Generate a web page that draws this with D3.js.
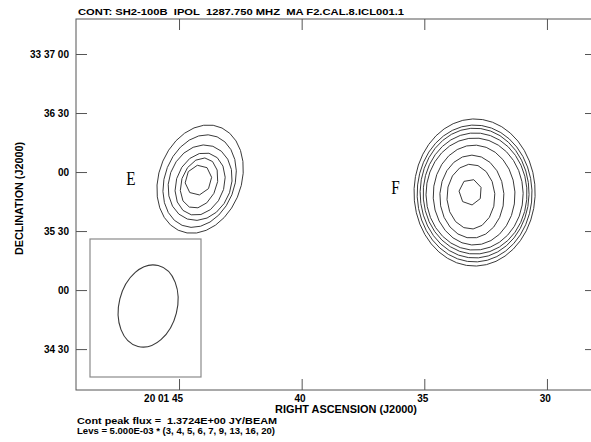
<!DOCTYPE html>
<html>
<head>
<meta charset="utf-8">
<script src="https://cdn.jsdelivr.net/npm/d3@7"></script>
<style>
  html, body { margin: 0; padding: 0; background: #fff; }
  svg { display: block; }
  text.lbl { font-family: "Liberation Sans", Arial, sans-serif; font-weight: bold; fill: #000; white-space: pre; }
  text.src { font-family: "Liberation Serif", "Times New Roman", serif; font-weight: normal; fill: #000; }
</style>
</head>
<body>
<svg id="chart" width="591" height="442"></svg>
<script>
// ---- Map header / annotation ----
const titleText = "CONT: SH2-100B  IPOL  1287.750 MHZ  MA F2.CAL.8.ICL001.1";
const peakText = "Cont peak flux =  1.3724E+00 JY/BEAM";
const baseLevel = 5.000E-03;
const levelMultipliers = [3, 4, 5, 6, 7, 9, 13, 16, 20];

// ---- Axes: RA in seconds of 20h01m, Dec in arcsec above 33d34m00s ----
const raTicks = [45, 40, 35, 30];
const raTickLabels = ["20 01 45", "40", "35", "30"];
const decTicks = [180, 150, 120, 90, 60, 30];
const decTickLabels = ["33 37 00", "36 30", "00", "35 30", "00", "34 30"];
const raDomain = [49.2, 28.0];
const decDomain = [9.2, 197.8];

// ---- Source E contours (one ring per level) ----
const eLevels = [3, 4, 5, 6, 7, 9];
const eRA     = [44.14, 44.16, 44.14, 44.14, 44.18, 44.21];
const eDec    = [116.4, 115.4, 114.6, 113.9, 114.4, 115.9];
const eMajor  = [28.3, 24.2, 19.6, 16.3, 13.2, 7.8];   // arcsec
const eMinor  = [21.0, 17.8, 15.8, 12.2, 9.0, 6.6];    // arcsec
const ePA     = -20;                                     // deg east of north

// ---- Source F contours ----
const fLevels = [3, 4, 5, 6, 7, 9, 13, 16, 20];
const fRA     = [32.95, 32.95, 32.95, 32.93, 32.95, 32.97, 33.06, 33.10, 33.12];
const fDec    = [109.6, 109.1, 109.3, 109.1, 108.8, 108.3, 107.5, 107.5, 109.8];
const fMajor  = [37.4, 34.8, 33.0, 30.8, 28.5, 25.4, 21.1, 16.5, 6.6];
const fMinor  = [30.8, 29.2, 27.7, 26.4, 24.7, 20.8, 16.3, 12.2, 5.8];
const fPA     = 0;

// ---- Source labels ----
const sourceNames = ["E", "F"];
const sourceLabelRA = [47.15, 36.35];
const sourceLabelDec = [113.2, 109.0];

// ---- Restoring beam ----
const beamRA = 46.26, beamDec = 51.9, beamMajor = 21.2, beamMinor = 14.8, beamPA = -14;

const svg = d3.select("#chart");
const frame = { left: 76, top: 19, right: 596, bottom: 390 };

const x = d3.scaleLinear().domain(raDomain).range([frame.left, frame.right]);
const y = d3.scaleLinear().domain(decDomain).range([frame.bottom, frame.top]);
const pxPerArcsec = y(0) - y(1);

const ink = "#3a3a3a";

// Frame
svg.append("rect")
  .attr("x", frame.left).attr("y", frame.top)
  .attr("width", frame.right - frame.left).attr("height", frame.bottom - frame.top)
  .attr("fill", "none").attr("stroke", "#555").attr("stroke-width", 1);

// Inward ticks on all sides
const tickLen = 11;
const bottomAxis = d3.axisBottom(x).tickValues(raTicks).tickSizeInner(-tickLen).tickSizeOuter(0).tickFormat("");
const topAxis = d3.axisTop(x).tickValues(raTicks).tickSizeInner(-tickLen).tickSizeOuter(0).tickFormat("");
const leftAxis = d3.axisLeft(y).tickValues(decTicks).tickSizeInner(-tickLen).tickSizeOuter(0).tickFormat("");
const rightAxis = d3.axisRight(y).tickValues(decTicks).tickSizeInner(-tickLen).tickSizeOuter(0).tickFormat("");
[[bottomAxis, `translate(0,${frame.bottom})`], [topAxis, `translate(0,${frame.top})`],
 [leftAxis, `translate(${frame.left},0)`], [rightAxis, `translate(${frame.right},0)`]].forEach(([ax, tr]) => {
  const g = svg.append("g").attr("transform", tr).call(ax);
  g.select(".domain").remove();
  g.selectAll(".tick line").attr("stroke", "#555");
});

// Tick labels
svg.append("g").selectAll("text").data(raTicks).join("text").attr("class", "lbl")
  .attr("x", d => x(d) + 4).attr("y", frame.bottom + 12)
  .attr("text-anchor", "end").attr("font-size", 10)
  .text((d, i) => raTickLabels[i]);
svg.append("g").selectAll("text").data(decTicks).join("text").attr("class", "lbl")
  .attr("x", frame.left - 7).attr("y", d => y(d) + 4)
  .attr("text-anchor", "end").attr("font-size", 10)
  .text((d, i) => decTickLabels[i]);

// Axis titles
svg.append("text").attr("class", "lbl").attr("x", 275).attr("y", 413).attr("font-size", 10)
  .attr("textLength", 142).attr("lengthAdjust", "spacingAndGlyphs")
  .text("RIGHT ASCENSION (J2000)");
svg.append("text").attr("class", "lbl").attr("transform", "translate(23,255) rotate(-90)").attr("font-size", 10)
  .attr("textLength", 113).attr("lengthAdjust", "spacingAndGlyphs")
  .text("DECLINATION (J2000)");

// Title and footer
svg.append("text").attr("class", "lbl").attr("x", 78).attr("y", 15).attr("font-size", 9.5)
  .attr("textLength", 326).attr("lengthAdjust", "spacingAndGlyphs")
  .text(titleText);
svg.append("text").attr("class", "lbl").attr("x", 77).attr("y", 424).attr("font-size", 9.5)
  .attr("textLength", 200).attr("lengthAdjust", "spacingAndGlyphs")
  .text(peakText);
const levsText = "Levs = " + baseLevel.toExponential(3).replace("e-", "E-0") +
  " * (" + levelMultipliers.join(", ") + ")";
svg.append("text").attr("class", "lbl").attr("x", 77).attr("y", 434).attr("font-size", 9.5)
  .attr("textLength", 198).attr("lengthAdjust", "spacingAndGlyphs")
  .text(levsText);

// Contour rings, drawn as polygons like a gridded contouring routine
function ringPoints(cx, cy, major, minor, pa) {
  const a = major * pxPerArcsec, b = minor * pxPerArcsec;
  const per = Math.PI * (3 * (a + b) - Math.sqrt((3 * a + b) * (a + 3 * b)));
  const n = Math.max(6, Math.round(per / 11));
  const rot = -pa * Math.PI / 180;
  const pts = [];
  for (let i = 0; i < n; i++) {
    const t = 2 * Math.PI * i / n + 0.3;
    const lx = b * Math.sin(t), ly = -a * Math.cos(t);
    pts.push([cx + lx * Math.cos(rot) - ly * Math.sin(rot), cy + lx * Math.sin(rot) + ly * Math.cos(rot)]);
  }
  return pts;
}
const ringLine = d3.line().curve(d3.curveLinearClosed);

function drawSource(levels, ra, dec, major, minor, pa) {
  svg.append("g").selectAll("path").data(levels).join("path")
    .attr("d", (lv, i) => ringLine(ringPoints(x(ra[i]), y(dec[i]), major[i], minor[i], pa)))
    .attr("fill", "none").attr("stroke", ink).attr("stroke-width", 1)
    .attr("stroke-linejoin", "round");
}
drawSource(eLevels, eRA, eDec, eMajor, eMinor, ePA);
drawSource(fLevels, fRA, fDec, fMajor, fMinor, fPA);

// Source labels
svg.append("g").selectAll("text").data(sourceNames).join("text").attr("class", "src")
  .attr("x", 0).attr("y", 0).attr("font-size", 19)
  .attr("transform", (d, i) => `translate(${x(sourceLabelRA[i])},${y(sourceLabelDec[i])}) scale(0.8,1)`)
  .text(d => d);

// Beam box and beam ellipse
svg.append("rect")
  .attr("x", frame.left + 14).attr("y", frame.bottom - 151)
  .attr("width", 111).attr("height", 138)
  .attr("fill", "none").attr("stroke", "#8a8a8a").attr("stroke-width", 1.2);
svg.append("ellipse")
  .attr("cx", 0).attr("cy", 0)
  .attr("rx", beamMinor * pxPerArcsec).attr("ry", beamMajor * pxPerArcsec)
  .attr("transform", `translate(${x(beamRA)},${y(beamDec)}) rotate(${-beamPA})`)
  .attr("fill", "none").attr("stroke", ink).attr("stroke-width", 1.1);
</script>
</body>
</html>
